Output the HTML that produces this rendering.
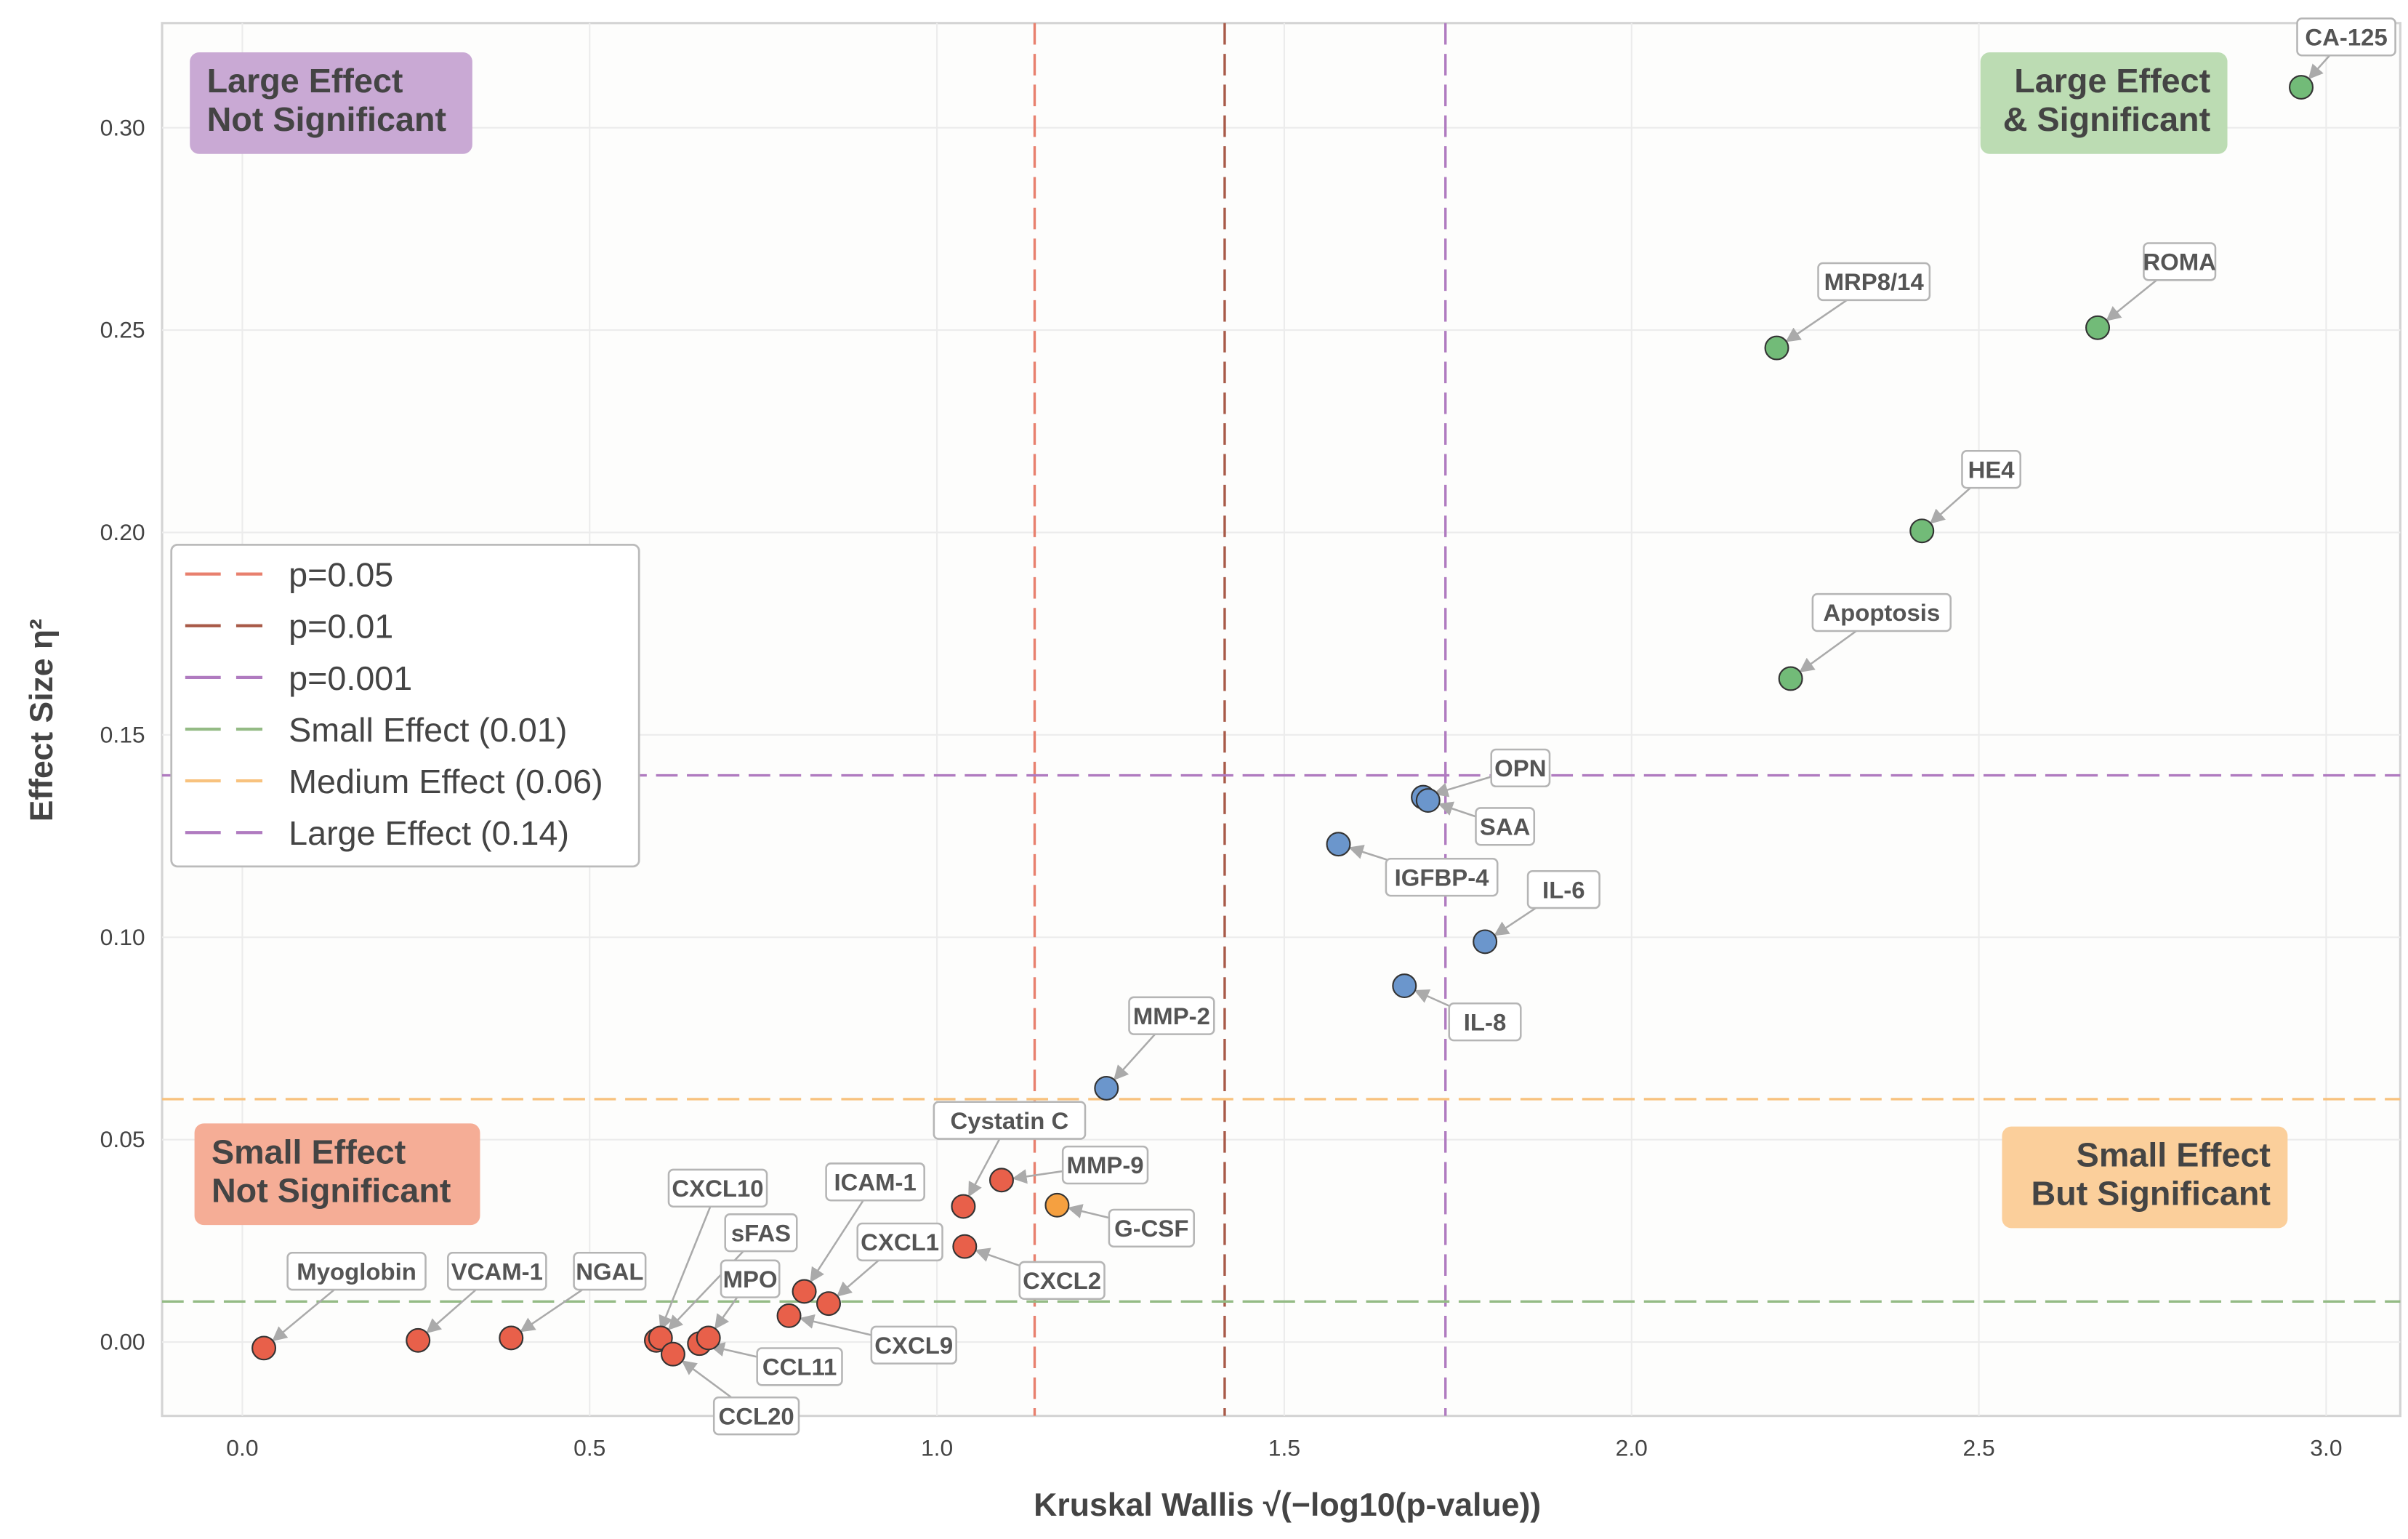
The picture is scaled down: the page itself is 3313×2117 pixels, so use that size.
<!DOCTYPE html>
<html><head><meta charset="utf-8"><style>
html,body{margin:0;padding:0;background:#fff;}
svg{display:block;font-family:"Liberation Sans",Arial,sans-serif;}
</style></head><body>
<svg id="chart" width="3313" height="2117" viewBox="0 0 1560 1000" preserveAspectRatio="none" xmlns="http://www.w3.org/2000/svg">
<rect x="0" y="0" width="1560" height="1000" fill="#fff"/>
<g id="grid"></g>
<g id="thresholds"></g>
<g id="arrows"></g>
<g id="points"></g>
<g id="labels"></g>
<g id="overlay"></g>
</svg>
<script>
const names = ["Myoglobin","VCAM-1","NGAL","CXCL10","sFAS","CCL20","CCL11","MPO","CXCL9","ICAM-1","CXCL1","Cystatin C","CXCL2","MMP-9","G-CSF","MMP-2","IGFBP-4","IL-8","OPN","SAA","IL-6","MRP8/14","Apoptosis","HE4","ROMA","CA-125"];
const xValues = [0.031,0.253,0.387,0.596,0.602,0.62,0.658,0.671,0.787,0.809,0.844,1.038,1.04,1.093,1.173,1.244,1.578,1.673,1.70,1.707,1.789,2.209,2.229,2.418,2.671,2.964];
const yValues = [-0.0015,0.0004,0.001,0.0004,0.001,-0.003,-0.0004,0.001,0.0065,0.0125,0.0095,0.0335,0.0236,0.040,0.0338,0.0627,0.123,0.088,0.1346,0.1338,0.0989,0.2456,0.1639,0.2004,0.2506,0.310];
const groups = ["ns","ns","ns","ns","ns","ns","ns","ns","ns","ns","ns","ns","ns","ns","sig","med","med","med","med","med","med","large","large","large","large","large"];
const xTicks = [0,0.5,1.0,1.5,2.0,2.5,3.0];
const xTickLabels = ["0.0","0.5","1.0","1.5","2.0","2.5","3.0"];
const yTicks = [0,0.05,0.10,0.15,0.20,0.25,0.30];
const yTickLabels = ["0.00","0.05","0.10","0.15","0.20","0.25","0.30"];
const pThresholds = [0.05,0.01,0.001];
const effectThresholds = [0.01,0.06,0.14];
// label box centers (layout, display units)
const labelPos = [[231,826],[322,826],[395,826],[465,772],[493,801],[490,920],[518,888],[486,831],[592,874],[567,768],[583,807],[654,728],[688,832],[716,757],[746,798],[759,660],[934,570],[962,664],[985,499],[975,537],[1013,578],[1214,183],[1219,398],[1290,305],[1412,170],[1520,24]];

const NS="http://www.w3.org/2000/svg";
const PL=105,PR=1555,PT=15,PB=920;
const X0=157,XS=450,Y0=872,YS=2630;
const sx=v=>X0+v*XS, sy=v=>Y0-v*YS;
function mk(tag,attrs,parent,text){const e=document.createElementNS(NS,tag);for(const k in attrs)e.setAttribute(k,attrs[k]);if(text!==undefined)e.textContent=text;parent.appendChild(e);return e;}
const grid=document.getElementById('grid'),thr=document.getElementById('thresholds'),arr=document.getElementById('arrows'),pts=document.getElementById('points'),lab=document.getElementById('labels'),ov=document.getElementById('overlay');

const bg=mk('rect',{x:PL,y:PT,width:PR-PL,height:PB-PT,fill:'#fdfdfc',stroke:'#d4d4d4','stroke-width':1.5},grid);


xTicks.forEach((t,i)=>{
  const l=mk('line',{x1:sx(t),x2:sx(t),y1:PT,y2:PB,stroke:'#ececec','stroke-width':1},grid);
  
  
  const tx=mk('text',{x:sx(t),y:946,'font-size':15,fill:'#444','text-anchor':'middle'},grid,xTickLabels[i]);
  
  
});
yTicks.forEach((t,i)=>{
  const l=mk('line',{x1:PL,x2:PR,y1:sy(t),y2:sy(t),stroke:'#ececec','stroke-width':1},grid);
  
  
  const tx=mk('text',{x:94,y:sy(t)+5,'font-size':15,fill:'#444','text-anchor':'end'},grid,yTickLabels[i]);
  
  
});
const pCols=['#e8806e','#a85a48','#b07bc0'];
pThresholds.forEach((p,i)=>{
  const x=sx(Math.sqrt(-Math.log10(p)));
  const l=mk('line',{x1:x,x2:x,y1:PT,y2:PB,stroke:pCols[i],'stroke-width':1.6,'stroke-dasharray':'14 6'},thr);
  
  
});
const eCols=['#94bb85','#f8c27e','#b07bc0'];
effectThresholds.forEach((e,i)=>{
  const l=mk('line',{x1:PL,x2:PR,y1:sy(e),y2:sy(e),stroke:eCols[i],'stroke-width':1.6,'stroke-dasharray':'14 6'},thr);
  
  
});
const gCol={ns:'#e8604a',sig:'#f5a040',med:'#6b96cc',large:'#72bb78'};
mk('defs',{},arr).innerHTML='<marker id="ah" markerWidth="8" markerHeight="8" refX="7" refY="4" orient="auto"><path d="M0,0 L8,4 L0,8 z" fill="#aaa"/></marker>';
names.forEach((n,i)=>{
  const px=sx(xValues[i]),py=sy(yValues[i]);
  const [lx,ly]=labelPos[i];
  const dx=px-lx,dy=py-ly,d=Math.hypot(dx,dy)||1;
  const a=mk('line',{x1:lx,y1:ly,x2:px-dx/d*8,y2:py-dy/d*8,stroke:'#aaa','stroke-width':1.2,'marker-end':'url(#ah)'},arr);
  
  
  const c=mk('circle',{cx:px,cy:py,r:7.5,fill:gCol[groups[i]],stroke:'#333','stroke-width':1},pts);
  
  
  const g=mk('g',{},lab);
  
  
  const w=n.length*8.6+12;
  mk('rect',{x:lx-w/2,y:ly-12,width:w,height:24,rx:3,fill:'#fff',stroke:'#b5b5b5','stroke-width':1.2},g);
  mk('text',{x:lx,y:ly+5.5,'font-size':15.5,'font-weight':'bold',fill:'#555','text-anchor':'middle'},g,n);
});
// quadrant boxes
const quads=[
 {x:123,y:34,w:183,h:66,c:'#c9a9d4',t:['Large Effect','Not Significant'],a:'start',n:'quadrant-large-not-significant'},
 {x:1283,y:34,w:160,h:66,c:'#bcdcb3',t:['Large Effect','& Significant'],a:'end',n:'quadrant-large-significant'},
 {x:126,y:730,w:185,h:66,c:'#f5ad96',t:['Small Effect','Not Significant'],a:'start',n:'quadrant-small-not-significant'},
 {x:1297,y:732,w:185,h:66,c:'#fbcf9b',t:['Small Effect','But Significant'],a:'end',n:'quadrant-small-significant'}];
quads.forEach(q=>{
  const g=mk('g',{},ov);
  
  
  mk('rect',{x:q.x,y:q.y,width:q.w,height:q.h,rx:6,fill:q.c},g);
  const tx=q.a==='start'?q.x+11:q.x+q.w-11;
  q.t.forEach((s,k)=>mk('text',{x:tx,y:q.y+26+k*25,'font-size':22,'font-weight':'bold',fill:'#444','text-anchor':q.a},g,s));
});
// legend
const lg=mk('g',{},ov);


mk('rect',{x:111,y:354,width:303,height:209,rx:4,fill:'#fff',stroke:'#bbb','stroke-width':1.3},lg);
const legTexts=['p=0.05','p=0.01','p=0.001','Small Effect (0.01)','Medium Effect (0.06)','Large Effect (0.14)'];
const legCols=pCols.concat(eCols);
legTexts.forEach((s,i)=>{
  const y=373+i*33.6;
  const e=mk('g',{},lg);
  
  
  mk('line',{x1:120,x2:170,y1:y,y2:y,stroke:legCols[i],'stroke-width':2,'stroke-dasharray':'23 10'},e);
  mk('text',{x:187,y:y+8,'font-size':22,fill:'#444'},e,s);
});
const xt=mk('text',{x:834,y:985,'font-size':21,'font-weight':'bold',fill:'#444','text-anchor':'middle'},ov,'Kruskal Wallis √(−log10(p-value))');


const yt=mk('text',{x:0,y:0,'font-size':21,'font-weight':'bold',fill:'#444','text-anchor':'middle',transform:'translate(34,468) rotate(-90)'},ov,'Effect Size η²');


</script>
</body></html>
